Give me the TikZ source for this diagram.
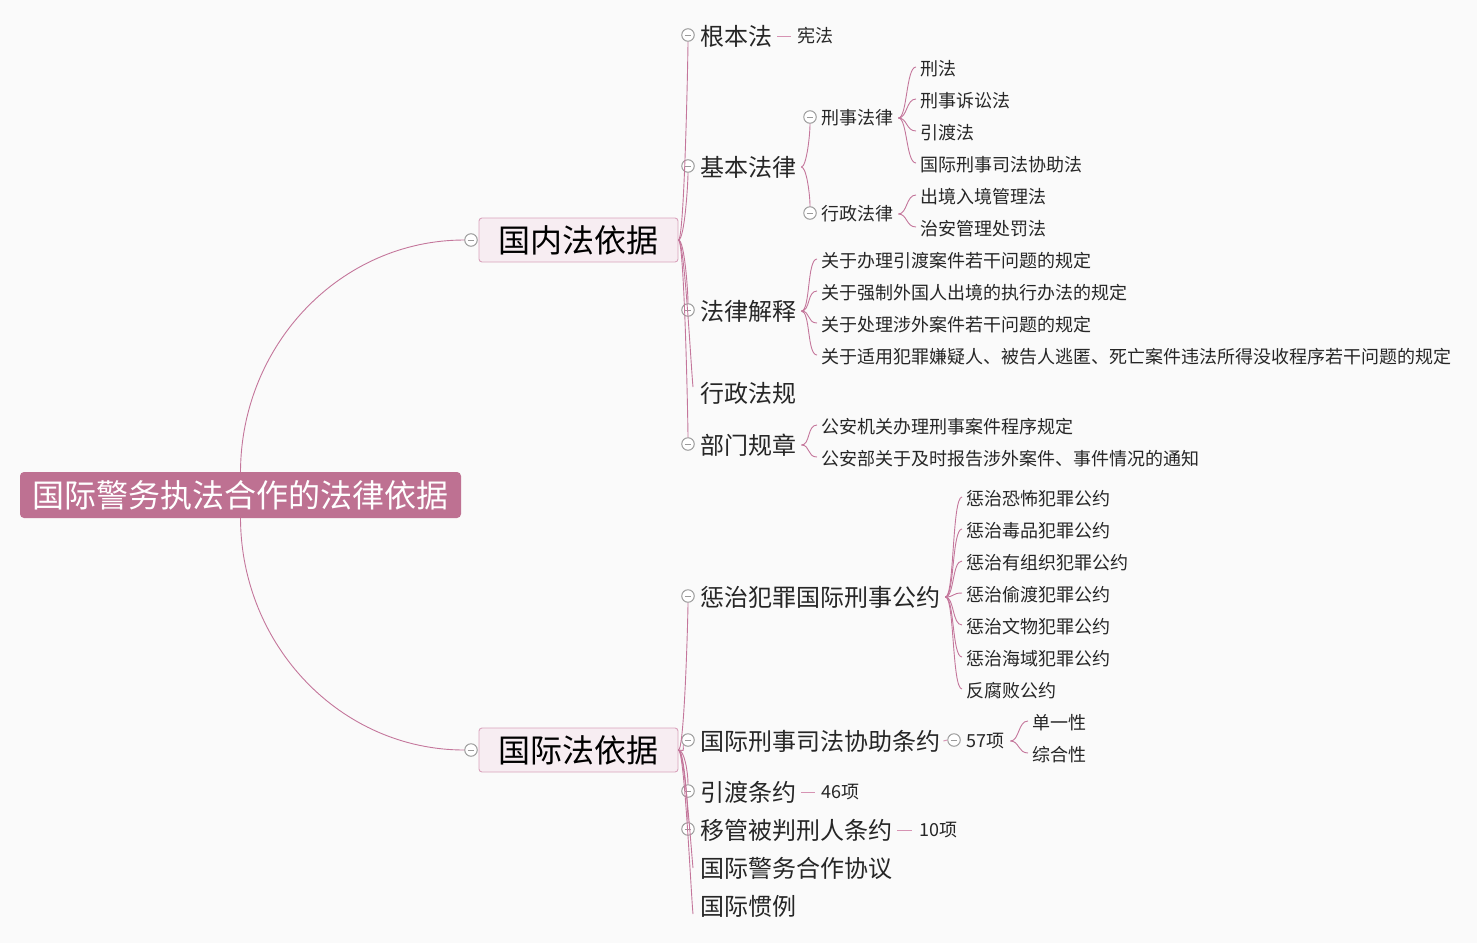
\documentclass[tikz,border=0pt]{standalone}
\usepackage{fontspec}
\setmainfont{Noto Sans CJK SC}
\definecolor{bgc}{HTML}{FAFAFA}
\definecolor{linec}{HTML}{C4769B}
\definecolor{dashc}{HTML}{D693B3}
\definecolor{foldc}{HTML}{9A9A9A}
\definecolor{rootc}{HTML}{BE7192}
\definecolor{boxc}{HTML}{F7EDF2}
\definecolor{boxb}{HTML}{D9A3BC}
\definecolor{txtc}{HTML}{262626}
\begin{document}
\begin{tikzpicture}[x=1pt,y=-1pt,
  conn/.style={draw=linec, line width=0.9pt},
  dashln/.style={draw=dashc, line width=1pt},
  tx/.style={anchor=west, inner sep=0pt, text=txtc, yshift=-1pt},
  Ltwo/.style={tx, font=\fontsize{24}{24}\selectfont},
  Lthree/.style={tx, font=\fontsize{18}{18}\selectfont},
  rootbox/.style={rectangle, rounded corners=4pt, fill=rootc, text=white, minimum width=441pt, minimum height=46pt, inner sep=0pt, font=\fontsize{32}{32}\selectfont},
  onebox/.style={rectangle, rounded corners=3pt, fill=boxc, draw=boxb, line width=0.9pt, text=black, minimum width=199pt, minimum height=44pt, inner sep=0pt, font=\fontsize{32}{32}\selectfont},
  fold/.style={circle, draw=foldc, fill=white, line width=1pt, minimum size=12.5pt, inner sep=0pt,
    path picture={\draw[foldc, line width=1pt] ([xshift=3pt]path picture bounding box.west) -- ([xshift=-3pt]path picture bounding box.east);}},
]
\fill[bgc] (0,0) rectangle (1477,943);
\useasboundingbox (0,0) rectangle (1477,943);

% root and level 1
\node[rootbox] (root) at (240.5,495) {\raisebox{2pt}{国际警务执法合作的法律依据}};
\node[onebox] (gn) at (578.5,240) {国内法依据};
\node[onebox] (gj) at (578.5,750) {国际法依据};
\node[fold] (fgn) at (471,240) {};
\node[fold] (fgj) at (471,750) {};
\draw[conn] (root.north) .. controls (241,344) and (341,240) .. (fgn.west);
\draw[conn] (root.south) .. controls (241,646) and (341,750) .. (fgj.west);

% level 2 domestic
\node[Ltwo] (gbf) at (700,35) {根本法};
\node[Ltwo] (jbfl) at (700,166) {基本法律};
\node[Ltwo] (fljs) at (700,310) {法律解释};
\node[Ltwo] (xzfg) at (700,392) {行政法规};
\node[Ltwo] (bmgz) at (700,444) {部门规章};
\node[fold] (fgbf) at (688,35) {};
\node[fold] (fjbfl) at (688,166) {};
\node[fold] (ffljs) at (688,310) {};
\node[fold] (fbmgz) at (688,444) {};
\draw[conn] (gn.east) .. controls +(6,0) and +(0,12) .. (fgbf.south);
\draw[conn] (gn.east) .. controls +(6,0) and +(0,12) .. (fjbfl.south);
\draw[conn] (gn.east) .. controls +(6,0) and +(0,-12) .. (ffljs.north);
\draw[conn] (gn.east) .. controls +(6,0) and +(-2,-20) .. ([xshift=-7pt,yshift=6pt]xzfg.west);
\draw[conn] (gn.east) .. controls +(6,0) and +(0,-12) .. (fbmgz.north);

% 根本法
\node[Lthree] (xf) at (797,35) {宪法};
\draw[dashln] ([xshift=5pt]gbf.east) -- ([xshift=-6pt]xf.west);

% 基本法律
\node[Lthree] (xsfl) at (821,117) {刑事法律};
\node[Lthree] (xzfl) at (821,213) {行政法律};
\node[fold] (fxsfl) at (810,117) {};
\node[fold] (fxzfl) at (810,213) {};
\draw[conn] ([xshift=5pt]jbfl.east) .. controls +(5,0) and +(0,12) .. (fxsfl.south);
\draw[conn] ([xshift=5pt]jbfl.east) .. controls +(5,0) and +(0,-12) .. (fxzfl.north);

\node[Lthree] (a1) at (920,68) {刑法};
\node[Lthree] (a2) at (920,100) {刑事诉讼法};
\node[Lthree] (a3) at (920,132) {引渡法};
\node[Lthree] (a4) at (920,164) {国际刑事司法协助法};
\foreach \n in {a1,a2,a3,a4}
  \draw[conn] ([xshift=5pt]xsfl.east) .. controls +(9,0) and +(-10,0) .. ([xshift=-4pt,yshift=2pt]\n.west);
\node[Lthree] (b1) at (920,196) {出境入境管理法};
\node[Lthree] (b2) at (920,228) {治安管理处罚法};
\foreach \n in {b1,b2}
  \draw[conn] ([xshift=5pt]xzfl.east) .. controls +(9,0) and +(-10,0) .. ([xshift=-4pt,yshift=2pt]\n.west);

% 法律解释
\node[Lthree] (c1) at (821,260) {关于办理引渡案件若干问题的规定};
\node[Lthree] (c2) at (821,292) {关于强制外国人出境的执行办法的规定};
\node[Lthree] (c3) at (821,324) {关于处理涉外案件若干问题的规定};
\node[Lthree] (c4) at (821,356) {关于适用犯罪嫌疑人、被告人逃匿、死亡案件违法所得没收程序若干问题的规定};
\foreach \n in {c1,c2,c3,c4}
  \draw[conn] ([xshift=5pt]fljs.east) .. controls +(9,0) and +(-10,0) .. ([xshift=-4pt,yshift=2pt]\n.west);

% 部门规章
\node[Lthree] (d1) at (821,426) {公安机关办理刑事案件程序规定};
\node[Lthree] (d2) at (821,458) {公安部关于及时报告涉外案件、事件情况的通知};
\foreach \n in {d1,d2}
  \draw[conn] ([xshift=5pt]bmgz.east) .. controls +(9,0) and +(-10,0) .. ([xshift=-4pt,yshift=2pt]\n.west);

% level 2 international
\node[Ltwo] (cz) at (700,596) {惩治犯罪国际刑事公约};
\node[Ltwo] (xz) at (700,740) {国际刑事司法协助条约};
\node[Ltwo] (yd) at (700,791) {引渡条约};
\node[Ltwo] (yg) at (700,829) {移管被判刑人条约};
\node[Ltwo] (jw) at (700,867) {国际警务合作协议};
\node[Ltwo] (gl) at (700,905) {国际惯例};
\node[fold] (fcz) at (688,596) {};
\node[fold] (fxz) at (688,740) {};
\node[fold] (fyd) at (688,791) {};
\node[fold] (fyg) at (688,829) {};
\draw[conn] (gj.east) .. controls +(6,0) and +(0,12) .. (fcz.south);
\draw[conn] (gj.east) .. controls +(6,0) and +(0,8) .. (fxz.south west);
\draw[conn] (gj.east) .. controls +(6,0) and +(0,-12) .. (fyd.north);
\draw[conn] (gj.east) .. controls +(6,0) and +(0,-12) .. (fyg.north);
\draw[conn] (gj.east) .. controls +(6,0) and +(-2,-20) .. ([xshift=-7pt]jw.west);
\draw[conn] (gj.east) .. controls +(6,0) and +(-2,-20) .. ([xshift=-7pt,yshift=-8pt]gl.west);

% 惩治犯罪国际刑事公约
\node[Lthree] (e1) at (966,498) {惩治恐怖犯罪公约};
\node[Lthree] (e2) at (966,530) {惩治毒品犯罪公约};
\node[Lthree] (e3) at (966,562) {惩治有组织犯罪公约};
\node[Lthree] (e4) at (966,594) {惩治偷渡犯罪公约};
\node[Lthree] (e5) at (966,626) {惩治文物犯罪公约};
\node[Lthree] (e6) at (966,658) {惩治海域犯罪公约};
\node[Lthree] (e7) at (966,690) {反腐败公约};
\foreach \n in {e1,e2,e3,e4,e5,e6,e7}
  \draw[conn] ([xshift=5pt]cz.east) .. controls +(9,0) and +(-10,0) .. ([xshift=-4pt,yshift=2pt]\n.west);

% 国际刑事司法协助条约
\node[fold] (f57) at (954,740) {};
\node[Lthree] (n57) at (966,740) {57项};
\draw[dashln] ([xshift=3pt]xz.east) -- (f57.west);
\node[Lthree] (g1) at (1032,722) {单一性};
\node[Lthree] (g2) at (1032,754) {综合性};
\foreach \n in {g1,g2}
  \draw[conn] ([xshift=6pt]n57.east) .. controls +(9,0) and +(-10,0) .. ([xshift=-4pt,yshift=2pt]\n.west);

% 引渡条约, 移管被判刑人条约
\node[Lthree] (n46) at (821,791) {46项};
\draw[dashln] ([xshift=5pt]yd.east) -- ([xshift=-6pt]n46.west);
\node[Lthree] (n10) at (919,829) {10项};
\draw[dashln] ([xshift=5pt]yg.east) -- ([xshift=-7pt]n10.west);
\end{tikzpicture}
\end{document}
